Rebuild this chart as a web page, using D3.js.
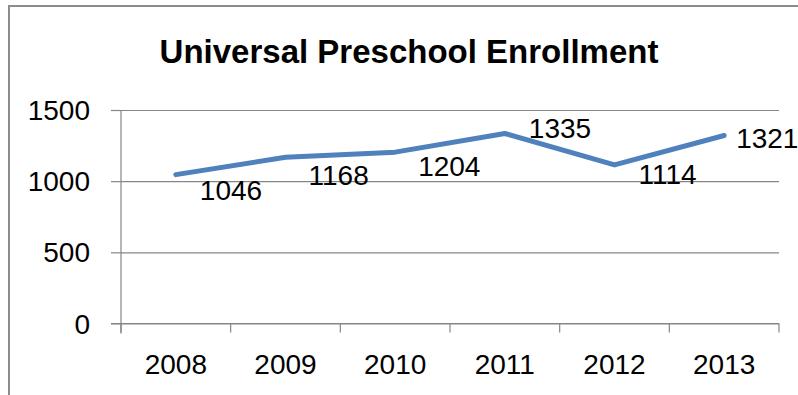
<!DOCTYPE html>
<html>
<head>
<meta charset="utf-8">
<script src="https://cdn.jsdelivr.net/npm/d3@7"></script>
<style>
  html, body { margin: 0; padding: 0; background: #fff; }
  svg { display: block; }
  text { font-family: "Liberation Sans", Arial, sans-serif; fill: #000; }
</style>
</head>
<body>
<svg id="chart" width="798" height="395"></svg>
<script>
// Enrollment by school year
const years = ["2008", "2009", "2010", "2011", "2012", "2013"];
const enrollment = [1046, 1168, 1204, 1335, 1114, 1321];
const yTicks = [0, 500, 1000, 1500];
const title = "Universal Preschool Enrollment";

// Where each value label sits relative to its point (dx to label start, dy to label middle)
const labelNudge = [[24, 15], [23, 18], [23, 14], [24, -6], [24, 9], [12, 2]];

const W = 798, H = 395;
const plot = { left: 121, right: 779, top: 110, bottom: 323.5 };

const svg = d3.select("#chart");

// Chart frame (runs off the right and bottom edges)
svg.append("rect")
  .attr("x", 9).attr("y", 6)
  .attr("width", W + 20).attr("height", H + 20)
  .attr("fill", "none")
  .attr("stroke", "#8c8c8c")
  .attr("stroke-width", 2);

svg.append("text")
  .attr("x", 409).attr("y", 62.5)
  .attr("text-anchor", "middle")
  .attr("font-size", 33)
  .attr("font-weight", "bold")
  .text(title);

const x = d3.scaleBand().domain(years).range([plot.left, plot.right]).padding(0);
const y = d3.scaleLinear().domain([0, 1500]).range([plot.bottom, plot.top]);

const gridColor = "#868686";

// Horizontal gridlines with small outward ticks on the left
const grid = svg.append("g")
  .attr("transform", `translate(${plot.left},0)`)
  .call(d3.axisLeft(y).tickValues(yTicks).tickSize(-(plot.right - plot.left)).tickFormat(""));
grid.select(".domain").remove();
grid.selectAll(".tick line").attr("stroke", gridColor).attr("stroke-width", 1.2);
grid.selectAll(".tick").append("line")
  .attr("x1", -10).attr("x2", 0)
  .attr("stroke", gridColor).attr("stroke-width", 1.2);

// Y tick labels
svg.append("g").selectAll("text")
  .data(yTicks)
  .join("text")
  .attr("x", 90)
  .attr("y", d => y(d))
  .attr("dy", "0.36em")
  .attr("text-anchor", "end")
  .attr("font-size", 28)
  .text(d => d);

// Vertical axis line
svg.append("line")
  .attr("x1", plot.left).attr("x2", plot.left)
  .attr("y1", plot.top).attr("y2", plot.bottom + 10)
  .attr("stroke", gridColor).attr("stroke-width", 1.2);

// Category axis: ticks between categories
const xAxis = svg.append("g")
  .attr("transform", `translate(0,${plot.bottom})`);
xAxis.append("line")
  .attr("x1", plot.left - 10).attr("x2", plot.right)
  .attr("stroke", gridColor).attr("stroke-width", 1.2);
const boundaries = years.map(d => x(d)).concat([x(years[years.length - 1]) + x.bandwidth()]);
xAxis.selectAll("line.tick")
  .data(boundaries)
  .join("line")
  .attr("class", "tick")
  .attr("x1", d => d).attr("x2", d => d)
  .attr("y1", 0).attr("y2", 9)
  .attr("stroke", gridColor).attr("stroke-width", 1.2);
xAxis.selectAll("text")
  .data(years)
  .join("text")
  .attr("x", d => x(d) + x.bandwidth() / 2)
  .attr("y", 40)
  .attr("dy", "0.36em")
  .attr("text-anchor", "middle")
  .attr("font-size", 28)
  .text(d => d);

// Enrollment line
const pts = years.map((yr, i) => ({ yr, v: enrollment[i] }));
const line = d3.line()
  .x(d => x(d.yr) + x.bandwidth() / 2)
  .y(d => y(d.v));
svg.append("path")
  .datum(pts)
  .attr("d", line)
  .attr("fill", "none")
  .attr("stroke", "#4F81BD")
  .attr("stroke-width", 5)
  .attr("stroke-linejoin", "round")
  .attr("stroke-linecap", "round");

// Value labels
svg.append("g").selectAll("text")
  .data(pts)
  .join("text")
  .attr("x", (d, i) => x(d.yr) + x.bandwidth() / 2 + labelNudge[i][0])
  .attr("y", (d, i) => y(d.v) + labelNudge[i][1])
  .attr("dy", "0.36em")
  .attr("font-size", 28)
  .text(d => d.v);
</script>
</body>
</html>
